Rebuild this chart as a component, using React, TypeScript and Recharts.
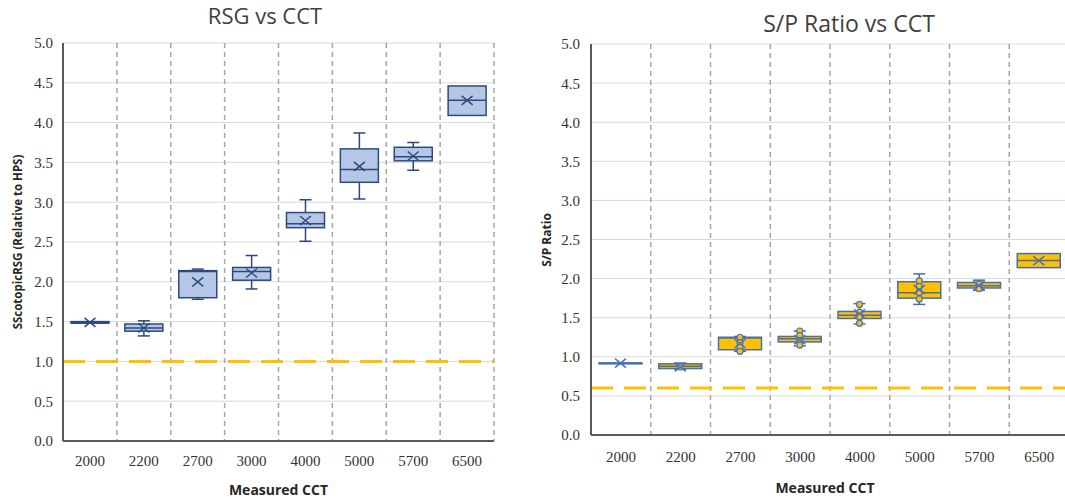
import { ComposedChart, Bar, XAxis, YAxis, CartesianGrid, ReferenceLine } from 'recharts';

// categories and axis
const CCT = ['2000', '2200', '2700', '3000', '4000', '5000', '5700', '6500'];
const Y_TICKS = [0, 0.5, 1, 1.5, 2, 2.5, 3, 3.5, 4, 4.5, 5];

// RSG vs CCT (box stats per CCT)
const RSG_MIN = [1.48, 1.32, 1.78, 1.91, 2.51, 3.04, 3.4, 4.09];
const RSG_Q1 = [1.48, 1.38, 1.8, 2.02, 2.68, 3.25, 3.52, 4.09];
const RSG_MEDIAN = [1.49, 1.42, 2.13, 2.13, 2.73, 3.41, 3.57, 4.28];
const RSG_Q3 = [1.5, 1.47, 2.14, 2.18, 2.87, 3.67, 3.69, 4.46];
const RSG_MAX = [1.5, 1.51, 2.16, 2.33, 3.03, 3.87, 3.75, 4.46];
const RSG_MEAN = [1.49, 1.42, 2.0, 2.11, 2.77, 3.45, 3.58, 4.28];
const RSG_LIMIT = 1.0;

// S/P ratio vs CCT
const SP_MIN = [0.91, 0.84, 1.07, 1.14, 1.42, 1.67, 1.85, 2.14];
const SP_Q1 = [0.91, 0.85, 1.09, 1.19, 1.49, 1.75, 1.88, 2.14];
const SP_MEDIAN = [0.92, 0.88, 1.24, 1.23, 1.53, 1.82, 1.91, 2.23];
const SP_Q3 = [0.92, 0.91, 1.25, 1.26, 1.58, 1.96, 1.95, 2.32];
const SP_MAX = [0.92, 0.92, 1.26, 1.33, 1.68, 2.06, 1.98, 2.32];
const SP_MEAN = [0.92, 0.87, 1.17, 1.22, 1.55, 1.86, 1.91, 2.23];
const SP_POINTS = [
  [],
  [0.87],
  [1.25, 1.18, 1.12, 1.07],
  [1.33, 1.27, 1.21, 1.15],
  [1.67, 1.57, 1.51, 1.43],
  [1.97, 1.9, 1.82, 1.74],
  [1.93, 1.87],
  [],
];
const SP_LIMIT = 0.6;

const buildRows = (min: number[], q1: number[], med: number[], q3: number[], max: number[], mean: number[], pts?: number[][]) =>
  CCT.map((cct, i) => ({
    cct,
    min: min[i],
    q1: q1[i],
    median: med[i],
    q3: q3[i],
    max: max[i],
    mean: mean[i],
    points: pts ? pts[i] : [],
  }));

const rsgRows = buildRows(RSG_MIN, RSG_Q1, RSG_MEDIAN, RSG_Q3, RSG_MAX, RSG_MEAN);
const spRows = buildRows(SP_MIN, SP_Q1, SP_MEDIAN, SP_Q3, SP_MAX, SP_MEAN, SP_POINTS);

const RSG_LOOK = { fill: '#b4c7e7', stroke: '#2f4a7a', mean: '#2f4a7a', point: '#b4c7e7' };
const SP_LOOK = { fill: '#ffc000', stroke: '#4a6fa5', mean: '#4472c4', point: '#ffc000' };

// draws whiskers, box, median, points and mean marker inside the bar's pixel range (0..max)
const BoxShape = (props: any) => {
  const { x, y, width, height, payload, look } = props;
  if (!payload || !height) return null;
  const py = (v: number) => y + height * (1 - v / payload.max);
  const cx = x + width / 2;
  const cap = 6;
  const sw = 1.5;
  const yMax = py(payload.max);
  const yMin = py(payload.min);
  const yQ1 = py(payload.q1);
  const yQ3 = py(payload.q3);
  const yMed = py(payload.median);
  const yMean = py(payload.mean);
  return (
    <g>
      {payload.max > payload.q3 && (
        <>
          <line x1={cx} x2={cx} y1={yMax} y2={yQ3} stroke={look.stroke} strokeWidth={sw} />
          <line x1={cx - cap} x2={cx + cap} y1={yMax} y2={yMax} stroke={look.stroke} strokeWidth={sw} />
        </>
      )}
      {payload.min < payload.q1 && (
        <>
          <line x1={cx} x2={cx} y1={yQ1} y2={yMin} stroke={look.stroke} strokeWidth={sw} />
          <line x1={cx - cap} x2={cx + cap} y1={yMin} y2={yMin} stroke={look.stroke} strokeWidth={sw} />
        </>
      )}
      <rect x={x} y={yQ3} width={width} height={Math.max(yQ1 - yQ3, 0)} fill={look.fill} stroke={look.stroke} strokeWidth={sw} />
      <line x1={x} x2={x + width} y1={yMed} y2={yMed} stroke={look.stroke} strokeWidth={sw} />
      {payload.points.map((p: number, i: number) => (
        <circle key={i} cx={cx} cy={py(p)} r={3} fill={look.point} stroke={look.mean} strokeWidth={1.2} />
      ))}
      <path
        d={`M${cx - 5.5},${yMean - 4.5}L${cx + 5.5},${yMean + 4.5}M${cx - 5.5},${yMean + 4.5}L${cx + 5.5},${yMean - 4.5}`}
        stroke={look.mean}
        strokeWidth={1.5}
        fill="none"
      />
    </g>
  );
};

const FRAME = '#595959';
const SERIF = '"Liberation Serif", "Times New Roman", serif';

const XTick = (props: any) => {
  const { x, y, payload } = props;
  return (
    <text x={x} y={y} dy="0.71em" textAnchor="middle" fontFamily={SERIF} fontSize={15} fill="#333">
      {payload.value}
    </text>
  );
};

const YTick = (props: any) => {
  const { x, y, payload } = props;
  return (
    <text x={x} y={y} dy="0.36em" textAnchor="end" fontFamily={SERIF} fontSize={15} fill="#333">
      {Number(payload.value).toFixed(1)}
    </text>
  );
};

function BoxChart(props: any) {
  const { rows, look, limit, width, height, margin, boxWidth, yTickMargin, xTickMargin } = props;
  return (
    <ComposedChart width={width} height={height} data={rows} margin={margin}>
      <CartesianGrid horizontal vertical={false} stroke="#d9d9d9" strokeWidth={1} />
      <CartesianGrid
        horizontal={false}
        vertical
        stroke="#a6a6a6"
        strokeWidth={1.5}
        strokeDasharray="5 4"
        verticalCoordinatesGenerator={(p: any) =>
          p && p.offset ? CCT.map((_, i) => p.offset.left + (p.offset.width * (i + 1)) / CCT.length) : []
        }
      />
      <XAxis
        dataKey="cct"
        height={30}
        tickLine={false}
        tickMargin={xTickMargin}
        tick={<XTick />}
        axisLine={{ stroke: FRAME, strokeWidth: 2 }}
        interval={0}
      />
      <XAxis xAxisId="top" dataKey="cct" orientation="top" height={0} tick={false} tickLine={false} axisLine={{ stroke: FRAME, strokeWidth: 2 }} />
      <YAxis
        domain={[0, 5]}
        ticks={Y_TICKS}
        width={50}
        tickLine={false}
        tickMargin={yTickMargin}
        tick={<YTick />}
        axisLine={{ stroke: FRAME, strokeWidth: 2 }}
        allowDataOverflow
      />
      <YAxis yAxisId="right" orientation="right" domain={[0, 5]} width={0} tick={false} tickLine={false} axisLine={{ stroke: FRAME, strokeWidth: 2 }} />
      <ReferenceLine y={limit} stroke="#ffc000" strokeWidth={3} strokeDasharray="22 11" />
      <Bar dataKey="max" barSize={boxWidth} isAnimationActive={false} shape={(p: any) => <BoxShape {...p} look={look} />} />
    </ComposedChart>
  );
}

const sans = '"Open Sans", "Noto Sans", sans-serif';

export default function App() {
  return (
    <div style={{ position: 'fixed', left: 0, top: 0, width: 1065, height: 501, overflow: 'hidden', background: '#fff' }}>
      <div style={{ position: 'absolute', left: 0, top: 0 }}>
        <BoxChart
          rows={rsgRows}
          look={RSG_LOOK}
          limit={RSG_LIMIT}
          width={500}
          height={501}
          margin={{ top: 43, right: 6, bottom: 30, left: 13 }}
          boxWidth={38}
          yTickMargin={4}
          xTickMargin={8}
        />
      </div>
      <div style={{ position: 'absolute', left: 530, top: 0 }}>
        <BoxChart
          rows={spRows}
          look={SP_LOOK}
          limit={SP_LIMIT}
          width={545}
          height={501}
          margin={{ top: 44, right: 6, bottom: 36, left: 11 }}
          boxWidth={43}
          yTickMargin={5}
          xTickMargin={10}
        />
      </div>
      <svg width={1065} height={501} style={{ position: 'absolute', left: 0, top: 0, pointerEvents: 'none' }}>
        <text x={265} y={24} textAnchor="middle" fontFamily={sans} fontSize={22} fill="#404040">
          RSG vs CCT
        </text>
        <text x={849} y={32} textAnchor="middle" fontFamily={sans} fontSize={23} fill="#404040">
          S/P Ratio vs CCT
        </text>
        <text transform="translate(21.5,242) rotate(-90)" textAnchor="middle" fontFamily={sans} fontWeight="bold" fontSize={11.5} fill="#262626">
          SScotopicRSG (Relative to HPS)
        </text>
        <text transform="translate(550.5,240) rotate(-90)" textAnchor="middle" fontFamily={sans} fontWeight="bold" fontSize={12} fill="#262626">
          S/P Ratio
        </text>
        <text x={278.5} y={495} textAnchor="middle" fontFamily={sans} fontWeight="bold" fontSize={14} fill="#262626">
          Measured CCT
        </text>
        <text x={825} y={493} textAnchor="middle" fontFamily={sans} fontWeight="bold" fontSize={14} fill="#262626">
          Measured CCT
        </text>
      </svg>
    </div>
  );
}
